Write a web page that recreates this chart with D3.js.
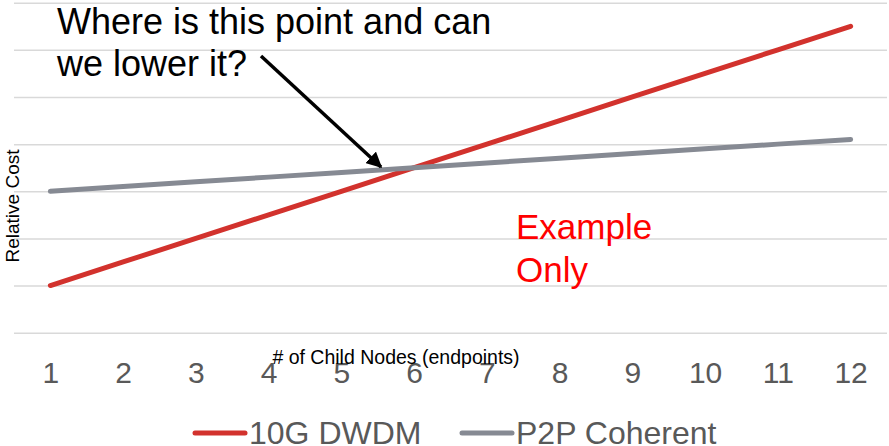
<!DOCTYPE html>
<html>
<head>
<meta charset="utf-8">
<script src="https://cdn.jsdelivr.net/npm/d3@7"></script>
<style>
  body { margin: 0; background: #fff; }
  svg { display: block; font-family: "Liberation Sans", Arial, sans-serif; }
</style>
</head>
<body>
<div id="chart"></div>
<script>
// chart values
var nodeCounts = [1, 2, 3, 4, 5, 6, 7, 8, 9, 10, 11, 12];
var dwdmCost = [1, 1.5, 2, 2.5, 3, 3.5, 4, 4.5, 5, 5.5, 6, 6.5];
var p2pCost = [3, 3.1, 3.2, 3.3, 3.4, 3.5, 3.6, 3.7, 3.8, 3.9, 4, 4.1];
var gridValues = [0, 1, 2, 3, 4, 5, 6, 7];
var seriesNames = ["10G DWDM", "P2P Coherent"];

var width = 889, height = 446;
var plotLeft = 14, plotRight = 887, plotTop = 2.7, plotBottom = 332.7;

var svg = d3.select("#chart")
    .append("svg")
    .attr("width", width)
    .attr("height", height);

var x = d3.scalePoint()
    .domain(nodeCounts)
    .range([plotLeft, plotRight])
    .padding(0.5);

var y = d3.scaleLinear()
    .domain([0, 7])
    .range([plotBottom, plotTop]);

var colors = d3.scaleOrdinal()
    .domain(seriesNames)
    .range(["#d2322d", "#868a93"]);

// gridlines
var grid = svg.append("g")
    .attr("transform", "translate(" + plotLeft + ",0)")
    .call(d3.axisLeft(y).tickValues(gridValues).tickSize(-(plotRight - plotLeft)).tickFormat(""));
grid.select(".domain").remove();
grid.selectAll("line").attr("stroke", "#d9d9d9").attr("stroke-width", 1.5);

// x axis labels
var xAxis = svg.append("g")
    .attr("transform", "translate(0," + plotBottom + ")")
    .call(d3.axisBottom(x).tickSize(0).tickPadding(29));
xAxis.select(".domain").remove();
xAxis.selectAll("text")
    .attr("fill", "#595959")
    .style("font-size", "30px")
    .style("font-family", "'Liberation Sans', Arial, sans-serif");

// series lines, gray drawn last (on top at the crossing)
var series = [
    { name: seriesNames[0], values: dwdmCost },
    { name: seriesNames[1], values: p2pCost }
];
var line = d3.line()
    .x(function(d, i) { return x(nodeCounts[i]); })
    .y(function(d) { return y(d); });

svg.selectAll(".series")
    .data(series)
    .enter()
    .append("path")
    .attr("class", "series")
    .attr("d", function(d) { return line(d.values); })
    .attr("fill", "none")
    .attr("stroke", function(d) { return colors(d.name); })
    .attr("stroke-width", 5)
    .attr("stroke-linecap", "round");

// axis titles
svg.append("text")
    .attr("transform", "translate(19,206) rotate(-90)")
    .attr("text-anchor", "middle")
    .style("font-size", "19px")
    .attr("fill", "#000")
    .text("Relative Cost");

svg.append("text")
    .attr("x", 396)
    .attr("y", 364)
    .attr("text-anchor", "middle")
    .style("font-size", "19.5px")
    .attr("fill", "#000")
    .text("# of Child Nodes (endpoints)");

// annotation
var note = svg.append("text")
    .style("font-size", "36px")
    .attr("fill", "#000");
note.append("tspan").attr("x", 57).attr("y", 34).text("Where is this point and can");
note.append("tspan").attr("x", 57).attr("y", 76).text("we lower it?");

svg.append("defs").append("marker")
    .attr("id", "head")
    .attr("viewBox", "0 0 10 10")
    .attr("refX", 9)
    .attr("refY", 5)
    .attr("markerWidth", 4.5)
    .attr("markerHeight", 4.5)
    .attr("markerUnits", "strokeWidth")
    .attr("orient", "auto")
    .append("path")
    .attr("d", "M0,0 L10,5 L0,10 z")
    .attr("fill", "#000");

svg.append("line")
    .attr("x1", 261).attr("y1", 56)
    .attr("x2", 381).attr("y2", 167)
    .attr("stroke", "#000")
    .attr("stroke-width", 3.5)
    .attr("marker-end", "url(#head)");

var example = svg.append("text")
    .style("font-size", "35px")
    .attr("fill", "#ff0000");
example.append("tspan").attr("x", 516).attr("y", 239).text("Example");
example.append("tspan").attr("x", 516).attr("y", 282).text("Only");

// legend
var legendX = [193, 460];
var legend = svg.selectAll(".legend")
    .data(seriesNames)
    .enter()
    .append("g")
    .attr("class", "legend")
    .attr("transform", function(d, i) { return "translate(" + legendX[i] + ",433)"; });
legend.append("line")
    .attr("x1", 2).attr("x2", 52)
    .attr("stroke", function(d) { return colors(d); })
    .attr("stroke-width", 5)
    .attr("stroke-linecap", "round");
legend.append("text")
    .attr("x", 56)
    .attr("y", 11)
    .style("font-size", "32px")
    .attr("fill", "#595959")
    .text(function(d) { return d; });
</script>
</body>
</html>
